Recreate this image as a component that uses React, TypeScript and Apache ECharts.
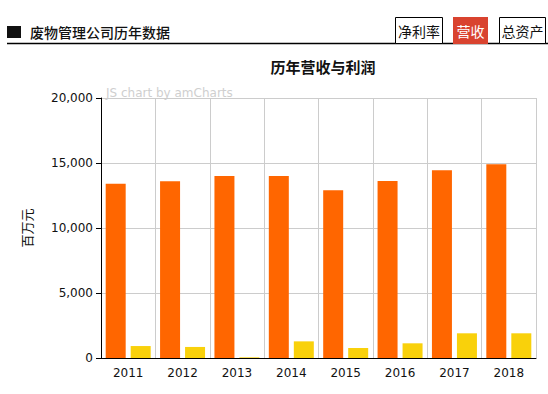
import React, { useEffect, useRef } from "react";
import * as echarts from "echarts";

const years = ["2011", "2012", "2013", "2014", "2015", "2016", "2017", "2018"];
const revenue = [13400, 13600, 14000, 14000, 12900, 13620, 14450, 14900];
const profit = [920, 850, 50, 1280, 770, 1130, 1900, 1900];
const yTicks = { min: 0, max: 20000, interval: 5000 };

const CJK = '"Noto Sans CJK SC", sans-serif';
const LAT = '"DejaVu Sans", Verdana, sans-serif';

export default function App() {
  const ref = useRef<HTMLDivElement>(null);
  useEffect(() => {
    if (!ref.current) return;
    const chart = echarts.init(ref.current, undefined, { renderer: "svg" });
    chart.setOption({
      animation: false,
      backgroundColor: "#ffffff",
      title: {
        text: "历年营收与利润",
        left: 318,
        textAlign: "center",
        top: 54,
        textStyle: { fontFamily: CJK, fontSize: 15, fontWeight: "bold", color: "#111" },
      },
      grid: { left: 101, right: 12, top: 98, bottom: 36, containLabel: false },
      xAxis: {
        type: "category",
        data: years,
        axisLine: { lineStyle: { color: "#000", width: 1 } },
        axisTick: { alignWithLabel: true, length: 5, lineStyle: { color: "#000" } },
        axisLabel: { color: "#111", fontFamily: LAT, fontSize: 12, margin: 9 },
        splitLine: { show: true, lineStyle: { color: "#cccccc", width: 1 } },
      },
      yAxis: {
        type: "value",
        min: yTicks.min,
        max: yTicks.max,
        interval: yTicks.interval,
        name: "百万元",
        nameLocation: "middle",
        nameRotate: 90,
        nameGap: 68,
        nameTextStyle: { fontFamily: CJK, fontSize: 13, color: "#111" },
        axisLine: { show: true, lineStyle: { color: "#000", width: 1 } },
        axisTick: { show: true, length: 5, lineStyle: { color: "#000" } },
        axisLabel: {
          color: "#111",
          fontFamily: LAT,
          fontSize: 12,
          margin: 8,
          formatter: (v: number) => v.toLocaleString("en-US"),
        },
        splitLine: { show: true, lineStyle: { color: "#cccccc", width: 1 } },
      },
      series: [
        {
          name: "营收",
          type: "bar",
          data: revenue,
          barWidth: 20,
          barGap: "25%",
          itemStyle: { color: "#FF6600" },
        },
        {
          name: "利润",
          type: "bar",
          data: profit,
          barWidth: 20,
          itemStyle: { color: "#F9D10B" },
        },
      ],
      graphic: [
        { type: "rect", shape: { x: 7, y: 26, width: 14, height: 12 }, style: { fill: "#111" } },
        {
          type: "text",
          x: 30,
          y: 32,
          style: {
            text: "废物管理公司历年数据",
            font: `500 14px ${CJK}`,
            fill: "#111",
            verticalAlign: "middle",
          },
        },
        {
          type: "line",
          shape: { x1: 7, y1: 43.5, x2: 548, y2: 43.5 },
          style: { stroke: "#000", lineWidth: 1.5 },
        },
        {
          type: "rect",
          shape: { x: 395.5, y: 17.5, width: 47, height: 26 },
          style: { fill: "#fff", stroke: "#000", lineWidth: 1 },
        },
        {
          type: "text",
          x: 419,
          y: 31,
          style: { text: "净利率", font: `14px ${CJK}`, fill: "#111", align: "center", verticalAlign: "middle" },
        },
        {
          type: "rect",
          shape: { x: 453, y: 17, width: 35, height: 27 },
          style: { fill: "#D9432F" },
        },
        {
          type: "text",
          x: 470.5,
          y: 31,
          style: { text: "营收", font: `14px ${CJK}`, fill: "#fff", align: "center", verticalAlign: "middle" },
        },
        {
          type: "rect",
          shape: { x: 499.5, y: 17.5, width: 46, height: 26 },
          style: { fill: "#fff", stroke: "#000", lineWidth: 1 },
        },
        {
          type: "text",
          x: 522.5,
          y: 31,
          style: { text: "总资产", font: `14px ${CJK}`, fill: "#111", align: "center", verticalAlign: "middle" },
        },
        {
          type: "text",
          x: 106,
          y: 93,
          style: {
            text: "JS chart by amCharts",
            font: `12px ${LAT}`,
            fill: "#cfcfcf",
            verticalAlign: "middle",
          },
        },
      ],
    });
    return () => chart.dispose();
  }, []);
  return (
    <div
      ref={ref}
      style={{ position: "fixed", left: 0, top: 0, width: 548, height: 394 }}
    />
  );
}
